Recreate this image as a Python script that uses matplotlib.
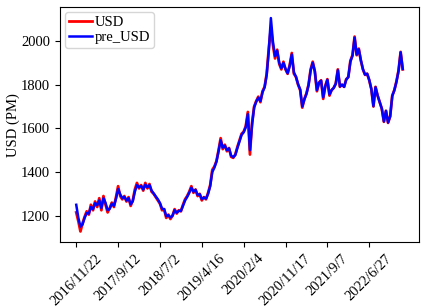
import numpy as np
import matplotlib
matplotlib.use("Agg")
import matplotlib.pyplot as plt

plt.rcParams["font.family"] = ["Liberation Serif", "DejaVu Serif"]

# trading-day index, one sample every 10 rows
day = np.arange(0, 1561, 10)

usd = [1215, 1175, 1128, 1165, 1195, 1220, 1205, 1250, 1225, 1265,
       1240, 1280, 1225, 1290, 1250, 1215, 1235, 1260, 1240, 1285,
       1335, 1290, 1275, 1290, 1265, 1285, 1245, 1270, 1320, 1350,
       1325, 1340, 1315, 1350, 1325, 1345, 1310, 1300, 1285, 1270,
       1255, 1225, 1230, 1190, 1205, 1185, 1200, 1230, 1210, 1225,
       1220, 1250, 1275, 1290, 1310, 1335, 1305, 1320, 1290, 1300,
       1270, 1285, 1275, 1305, 1340, 1410, 1425, 1450, 1500, 1555,
       1505, 1525, 1495, 1510, 1470, 1465, 1480, 1515, 1545, 1575,
       1585, 1610, 1675, 1480, 1625, 1700, 1725, 1745, 1720, 1770,
       1790, 1850, 1965, 2060, 1980, 1920, 1960, 1895, 1870, 1905,
       1870, 1850, 1890, 1945, 1850, 1835, 1800, 1775, 1695, 1735,
       1760, 1800, 1870, 1905, 1860, 1770, 1810, 1820, 1735, 1795,
       1825, 1750, 1775, 1785, 1805, 1870, 1790, 1800, 1790, 1825,
       1835, 1910, 1935, 2020, 1935, 1965, 1910, 1870, 1845, 1850,
       1820, 1780, 1700, 1790, 1750, 1720, 1690, 1630, 1680, 1625,
       1655, 1750, 1775, 1815, 1865, 1950, 1870]

pre_usd = [1250, 1190, 1150, 1160, 1190, 1212, 1210, 1240, 1230, 1258,
           1248, 1270, 1235, 1280, 1258, 1225, 1232, 1255, 1245, 1278,
           1322, 1298, 1280, 1286, 1270, 1280, 1252, 1266, 1310, 1340,
           1330, 1336, 1320, 1342, 1330, 1340, 1315, 1302, 1288, 1275,
           1258, 1232, 1230, 1198, 1202, 1192, 1200, 1225, 1214, 1222,
           1222, 1245, 1270, 1286, 1305, 1328, 1310, 1318, 1295, 1298,
           1276, 1283, 1278, 1300, 1335, 1400, 1420, 1448, 1495, 1545,
           1512, 1520, 1500, 1508, 1475, 1468, 1478, 1510, 1540, 1570,
           1582, 1605, 1665, 1500, 1615, 1695, 1722, 1740, 1725, 1765,
           1788, 1845, 1955, 2105, 1995, 1930, 1955, 1900, 1875, 1900,
           1872, 1852, 1886, 1938, 1856, 1836, 1802, 1778, 1700, 1732,
           1758, 1798, 1865, 1900, 1862, 1775, 1808, 1818, 1742, 1792,
           1822, 1755, 1775, 1785, 1804, 1866, 1792, 1800, 1790, 1823,
           1835, 1905, 1933, 2015, 1938, 1962, 1912, 1870, 1846, 1850,
           1822, 1780, 1702, 1788, 1750, 1720, 1690, 1632, 1680, 1627,
           1655, 1748, 1775, 1813, 1863, 1948, 1872]

tick_pos = [0, 200, 400, 600, 800, 1000, 1200, 1400]
tick_labels = ["2016/11/22", "2017/9/12", "2018/7/2", "2019/4/16",
               "2020/2/4", "2020/11/17", "2021/9/7", "2022/6/27"]

fig = plt.figure(figsize=(4.25, 3.08), dpi=100)
ax = fig.add_axes([0.141, 0.214, 0.845, 0.762])

ax.plot(day, usd, color="red", linewidth=2.0, label="USD")
ax.plot(day, pre_usd, color="blue", linewidth=1.8, label="pre_USD")

ax.set_xticks(tick_pos)
ax.set_xticklabels(tick_labels, rotation=45, fontsize=10.5)
ax.set_yticks([1200, 1400, 1600, 1800, 2000])
ax.tick_params(axis="y", labelsize=10.5)
ax.set_ylabel("USD (PM)", fontsize=10.5, labelpad=1)
ax.legend(loc="upper left", fontsize=10.5, handlelength=1.6,
          handletextpad=0.2, borderpad=0.25, labelspacing=0.1,
          borderaxespad=0.35)

fig.savefig("out.png", dpi=100)
